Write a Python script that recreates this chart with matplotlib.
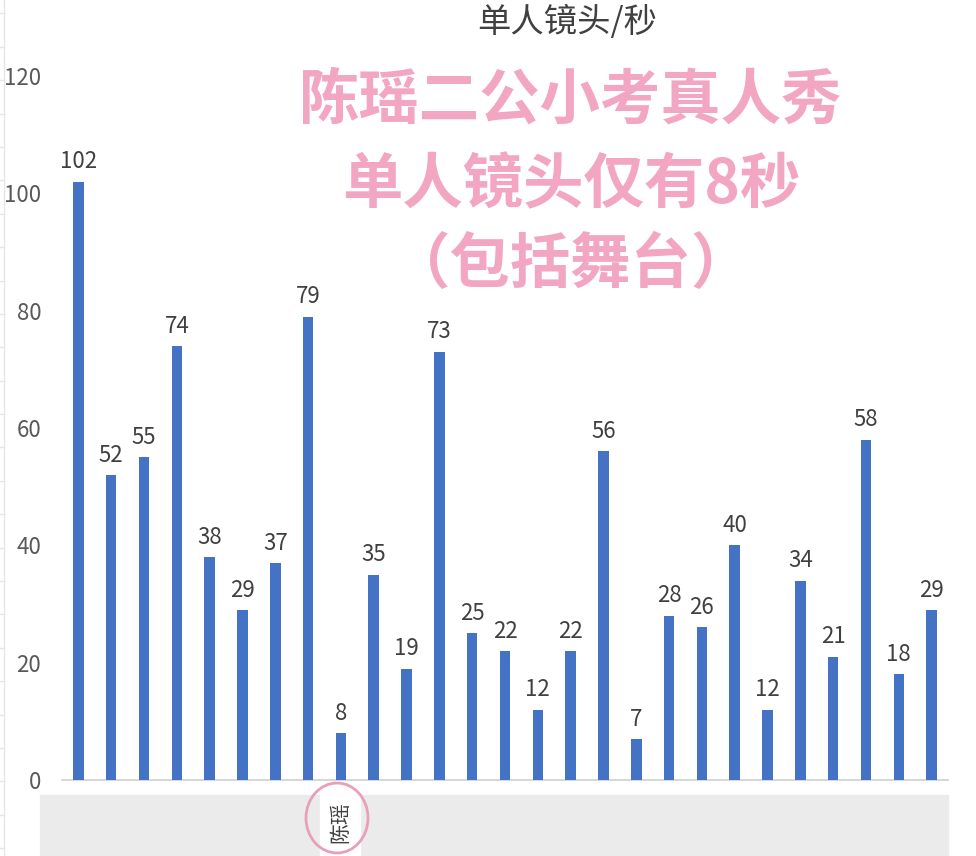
import matplotlib.pyplot as plt
from matplotlib.patches import Ellipse, Rectangle

plt.rcParams['font.family'] = ['Noto Sans CJK SC', 'DejaVu Sans']

# seconds of solo screen time per contestant
seconds = [102, 52, 55, 74, 38, 29, 37, 79, 8, 35, 19, 73, 25, 22, 12,
           22, 56, 7, 28, 26, 40, 12, 34, 21, 58, 18, 29]
highlight_name = '陈瑶'
yticks = [0, 20, 40, 60, 80, 100, 120]
title = '单人镜头/秒'
note_lines = ['陈瑶二公小考真人秀', '单人镜头仅有8秒', '（包括舞台）']

W, H = 976, 856
fig = plt.figure(figsize=(W / 100, H / 100), dpi=100)
ax = fig.add_axes([62 / W, (H - 780) / H, (948 - 62) / W, (780 - 76) / H])

x = list(range(len(seconds)))
bars = ax.bar(x, seconds, width=0.32, color='#4472C4', zorder=3)
for b, v in zip(bars, seconds):
    ax.annotate(str(v), (b.get_x() + b.get_width() / 2, v), xytext=(0, 6),
                textcoords='offset points', ha='center', va='bottom',
                fontsize=16, color='#404040')

ax.set_xlim(-0.5, len(seconds) - 0.5)
ax.set_ylim(0, 120)
ax.set_yticks(yticks)
ax.tick_params(axis='y', length=0, pad=15, labelsize=16, labelcolor='#595959')
ax.set_xticks([])
for s in ['top', 'right', 'left']:
    ax.spines[s].set_visible(False)
ax.spines['bottom'].set_color('#d0d0d0')
ax.spines['bottom'].set_linewidth(1.2)

# faint spreadsheet column border on the far left, with row borders
fig.add_artist(plt.Line2D([4 / W, 4 / W], [0, 1], color='#e6e6e6', lw=1,
                          zorder=-1))
row = 13.3
while row < H:
    fig.add_artist(plt.Line2D([0, 4 / W], [(H - row) / H] * 2,
                              color='#e6e6e6', lw=1, zorder=-1))
    row += 33.4

# grey category band under the axis, with a white cell for the highlighted name
fig.add_artist(Rectangle((40 / W, 0), (948 - 40) / W, (856 - 795) / H,
                         transform=fig.transFigure, color='#ebebeb', zorder=0))
fig.add_artist(Rectangle((320 / W, 0), 40 / W, (856 - 795) / H,
                         transform=fig.transFigure, color='white', zorder=1))
fig.text(340 / W, (856 - 822) / H, highlight_name, rotation=90, ha='center',
         va='center', fontsize=15, color='#404040', zorder=2)
fig.add_artist(Ellipse((337 / W, (856 - 818) / H), 62 / W, 70 / H,
                       transform=fig.transFigure, fill=False,
                       edgecolor='#e8a0b8', lw=2, zorder=3))

fig.text(567 / W, (856 - 22) / H, title, ha='center', va='center',
         fontsize=24, color='#404040')

pink = '#f2a6c2'
for line, yy in zip(note_lines, [101, 186, 265]):
    fig.text(571 / W, (H - yy) / H, line, ha='center', va='center',
             fontsize=43.5, fontweight='bold', color=pink)

fig.savefig('out.png', dpi=100)
